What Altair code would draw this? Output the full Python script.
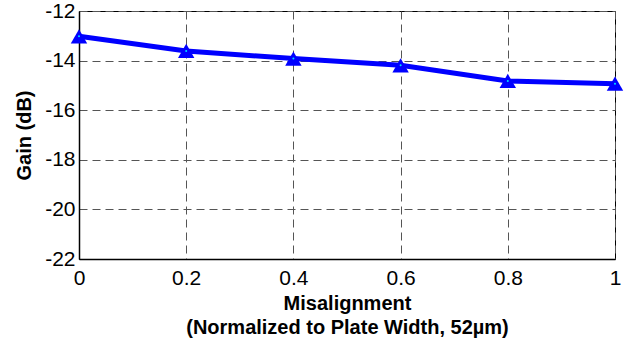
import altair as alt
import pandas as pd

misalignment = [0, 0.2, 0.4, 0.6, 0.8, 1.0]
gain_db = [-13.02, -13.61, -13.92, -14.19, -14.82, -14.93]
x_ticks = [0, 0.2, 0.4, 0.6, 0.8, 1.0]
y_ticks = [-22, -20, -18, -16, -14, -12]

df = pd.DataFrame({"x": misalignment, "y": gain_db})

FONT = "Liberation Sans"

x_enc = alt.X(
    "x:Q",
    scale=alt.Scale(domain=[0, 1], nice=False, zero=False),
    axis=alt.Axis(
        title=["Misalignment", "(Normalized to Plate Width, 52\u00b5m)"],
        values=x_ticks,
        format="~g",
        labelFont=FONT, labelFontSize=21, labelColor="black",
        labelPadding=8, ticks=False, tickSize=0,
        titleFont=FONT, titleFontSize=20, titleFontWeight="bold", titleColor="black",
        titleBaseline="alphabetic", titleY=50, titleLineHeight=24,
        grid=True, gridColor="#555555", gridDash=[8, 5], gridWidth=1,
        domainColor="black", domainWidth=1.5,
        labelFlush=False,
    ),
)
y_enc = alt.Y(
    "y:Q",
    scale=alt.Scale(domain=[-22, -12], nice=False, zero=False),
    axis=alt.Axis(
        title="Gain (dB)",
        values=y_ticks,
        labelExpr="datum.value < 0 ? '-' + format(-datum.value, 'd') : format(datum.value, 'd')",
        labelFont=FONT, labelFontSize=21, labelColor="black",
        labelPadding=4, ticks=False, tickSize=0,
        titleFont=FONT, titleFontSize=20, titleFontWeight="bold", titleColor="black",
        titleX=-55, titleBaseline="middle",
        grid=True, gridColor="#555555", gridDash=[8, 5], gridWidth=1,
        domainColor="black", domainWidth=1.5,
        labelFlush=False,
    ),
)

base = alt.Chart(df).encode(x=x_enc, y=y_enc)

line = base.mark_line(color="#0000FF", strokeWidth=5)
tri = base.mark_point(shape="triangle-up", size=270, filled=True, color="#0000FF", opacity=1)
dot = base.mark_point(shape="circle", size=4, filled=True, color="#00E0FF", opacity=1)

chart = (
    alt.layer(line, tri, dot)
    .properties(
        width=536,
        height=248,
        autosize=alt.AutoSizeParams(type="none"),
        padding={"left": 79, "top": 11, "right": 21, "bottom": 84},
        background="white",
    )
    .configure_view(stroke="black", strokeWidth=1)
)

chart.save("out.html", embed_options={"renderer": "svg", "actions": False})
